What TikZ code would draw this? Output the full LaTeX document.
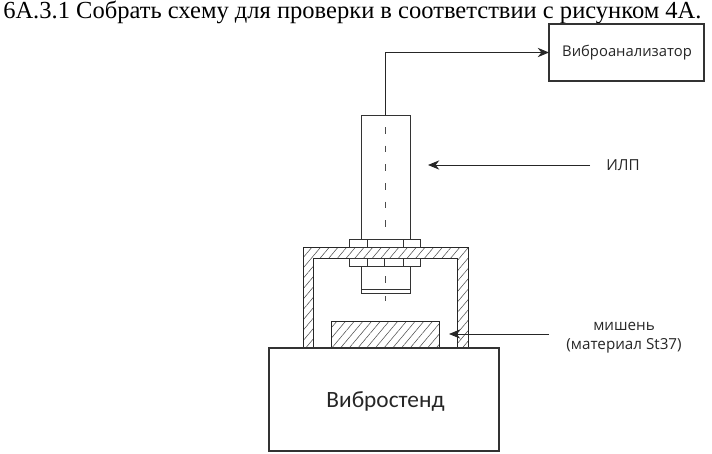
\documentclass[tikz,border=0pt]{standalone}
\usepackage{fontspec}
\setmainfont{Liberation Serif}
\newfontfamily\labelfont{Open Sans}
\newfontfamily\basefont{Carlito}
\usetikzlibrary{arrows.meta,patterns.meta}
\tikzset{
  part/.style={draw=black!80,line width=0.7pt,fill=white,inner sep=0pt,outer sep=0pt},
  hatched/.style={draw=black!85,line width=0.75pt,pattern={Lines[angle=50,distance=5pt,line width=0.4pt]},pattern color=black!70},
  lbl/.style={text=black!85,inner sep=0pt},
  conn/.style={draw=black!85,line width=0.75pt,-{Stealth[length=8.5pt,width=7pt]}},
  axis/.style={draw=black!70,line width=0.8pt},
  seam/.style={draw=black!80,line width=0.65pt}
}
\begin{document}
\begin{tikzpicture}[x=0.75pt,y=-0.75pt]
\useasboundingbox (0,0) rectangle (712,453);
% title
\node[anchor=west,inner sep=0pt,font=\fontsize{18.4pt}{20pt}\selectfont] (title) at (3,12) {6А.3.1 Собрать схему для проверки в соответствии с рисунком 4А.};
% frame
\draw[hatched] (303,348) -- (303,247) -- (468,247) -- (468,348) -- (457,348) -- (457,258) -- (313,258) -- (313,348) -- cycle;
% sensor
\node[part,minimum width=36.75pt,minimum height=93pt,anchor=north west] (sensor) at (361,115) {};
\node[part,minimum width=53.25pt,minimum height=6pt,anchor=north west] (nutup) at (349,239) {};
\draw[seam] (367,239) -- (367,247) (403,239) -- (403,247);
\node[part,minimum width=53.25pt,minimum height=6pt,anchor=north west] (nutlow) at (349,258) {};
\draw[seam] (367,258) -- (367,266) (384,258) -- (384,266) (403,258) -- (403,266);
\node[part,minimum width=36.75pt,minimum height=17.25pt,anchor=north west] (neck) at (361,266) {};
\node[part,minimum width=36.75pt,minimum height=3.2pt,anchor=north west] (lens) at (361,289) {};
\draw[axis,dash pattern=on 5pt off 9pt] (385.5,127) -- (385.5,236);
\draw[axis] (385.5,276) -- (385.5,283) (385.5,296) -- (385.5,301);
% target
\node[hatched,minimum width=81pt,minimum height=20.25pt,anchor=north west,inner sep=0pt,outer sep=0pt] (target) at (331,321) {};
% base
\node[part,line width=0.8pt,minimum width=172.5pt,minimum height=77.25pt,anchor=north west] (base) at (269,348) {};
\node[lbl,font=\basefont\fontsize{17.5pt}{19pt}\selectfont] (baselabel) at (385.5,401) {Вибростенд};
% analyser
\node[part,line width=0.8pt,minimum width=116.25pt,minimum height=42.75pt,anchor=north west] (analyser) at (549,24) {};
\node[lbl,font=\labelfont\fontsize{11.1pt}{13pt}\selectfont] (analyserlabel) at (627,53) {Виброанализатор};
% connectors
\draw[conn] (sensor.north) |- (analyser.west);
\coordinate (ilptail) at (590,165);
\coordinate (ilptip) at (428,165);
\draw[conn] (ilptail) -- (ilptip);
\node[lbl,font=\labelfont\fontsize{11.4pt}{13pt}\selectfont] (ilp) at (623,165) {ИЛП};
\coordinate (tgttail) at (549,334);
\coordinate (tgttip) at (449,334);
\draw[conn] (tgttail) -- (tgttip);
\node[lbl,font=\labelfont\fontsize{11.4pt}{13pt}\selectfont] (tgt1) at (624,326) {мишень};
\node[lbl,font=\labelfont\fontsize{11.4pt}{13pt}\selectfont] (tgt2) at (624,346) {(материал St37)};
\end{tikzpicture}
\end{document}
